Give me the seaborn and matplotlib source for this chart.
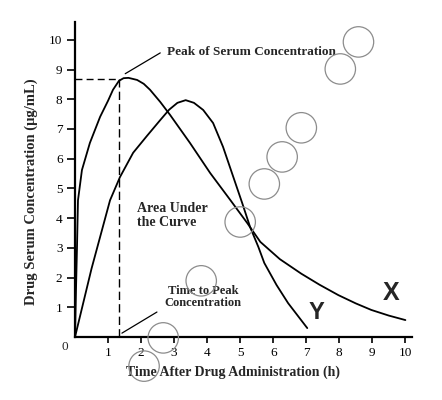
import matplotlib
matplotlib.use("Agg")
import matplotlib.pyplot as plt
import seaborn as sns

# curve X: fast rise, slow elimination
time_x = [0, 0.03, 0.06, 0.09, 0.21, 0.45, 0.76, 1.0, 1.15, 1.33, 1.47, 1.62, 1.88, 2.08, 2.27, 2.58,
          2.88, 3.48, 4.09, 4.70, 5.21, 5.61, 6.20, 6.85, 7.40, 7.97, 8.50, 8.97, 9.50, 10.0]
conc_x = [0, 1.6, 3.0, 4.6, 5.62, 6.53, 7.41, 7.95, 8.32, 8.62, 8.71, 8.72, 8.65, 8.52, 8.32, 7.91,
          7.47, 6.53, 5.52, 4.61, 3.84, 3.20, 2.62, 2.13, 1.76, 1.41, 1.13, 0.91, 0.72, 0.57]

# curve Y: slower rise, fast elimination
time_y = [0, 0.5, 1.06, 1.36, 1.76, 2.18, 2.58, 2.85, 3.1, 3.35, 3.6, 3.88, 4.18, 4.48, 4.79,
          5.06, 5.30, 5.55, 5.73, 6.10, 6.45, 7.03]
conc_y = [0, 2.3, 4.6, 5.38, 6.2, 6.77, 7.3, 7.65, 7.88, 7.97, 7.88, 7.64, 7.2, 6.4, 5.39,
          4.51, 3.70, 3.03, 2.49, 1.75, 1.14, 0.30]

# open circles scattered over the chart
circle_t = [8.58, 8.03, 6.85, 6.27, 5.73, 5.0, 3.82, 2.67, 2.09]
circle_c = [9.93, 9.02, 7.04, 6.06, 5.15, 3.87, 1.89, -0.03, -0.98]

peak_time = 1.32
peak_conc = 8.68

ticks = [1, 2, 3, 4, 5, 6, 7, 8, 9, 10]

sns.set_style("ticks")
plt.rcParams['font.family'] = ['Liberation Serif', 'DejaVu Serif']

fig = plt.figure(figsize=(4.42, 4.0), dpi=100)
ax = fig.add_axes([0.1697, 0.1575, 0.7624, 0.7875])

sns.lineplot(x=time_x, y=conc_x, sort=False, estimator=None, color="black", lw=1.3, ax=ax)
sns.lineplot(x=time_y, y=conc_y, sort=False, estimator=None, color="black", lw=1.3, ax=ax)

# dashed peak guides
ax.plot([0, peak_time], [peak_conc, peak_conc], color="black", lw=1.0, ls=(0, (5, 3)))
ax.plot([peak_time, peak_time], [0, peak_conc], color="black", lw=1.0, ls=(0, (6, 3)))

sns.scatterplot(x=circle_t, y=circle_c, s=480, facecolor="none", edgecolor="#8c8c8c",
                linewidth=0.9, ax=ax, clip_on=False, zorder=5)

ax.set_xlim(0, 10.2)
ax.set_ylim(0, 10.6)
ax.set_xticks(ticks)
ax.set_yticks(ticks)
ax.tick_params(axis="both", labelsize=9.5, width=1.2, color="black", labelcolor="black")
ax.tick_params(axis="y", length=6, pad=3)
ax.tick_params(axis="x", length=4, pad=3)
for s in ["left", "bottom"]:
    ax.spines[s].set_linewidth(1.6)
    ax.spines[s].set_color("black")
sns.despine(ax=ax)

ax.text(-0.3, -0.35, "0", fontsize=9.5, ha="center", va="center", clip_on=False)

ax.set_xlabel("Time After Drug Administration (h)", fontsize=10, fontweight="bold")
ax.xaxis.set_label_coords(0.47, -0.09)
ax.set_ylabel("Drug Serum Concentration (\u03bcg/mL)", fontsize=10.5, fontweight="bold")
ax.yaxis.set_label_coords(-0.11, 0.46)

ax.text(2.79, 9.6, "Peak of Serum Concentration", fontsize=9.5, fontweight="bold",
        ha="left", va="center")
ax.annotate("", xy=(1.52, 8.86), xytext=(2.58, 9.56),
            arrowprops=dict(arrowstyle="-", lw=0.9, color="black", shrinkA=0, shrinkB=0))

ax.text(1.88, 4.1, "Area Under\nthe Curve", fontsize=10, fontweight="bold",
        ha="left", va="center", linespacing=1.1)

ax.text(3.88, 1.35, "Time to Peak\nConcentration", fontsize=9, fontweight="bold",
        ha="center", va="center", linespacing=0.95)
ax.annotate("", xy=(1.42, 0.13), xytext=(2.48, 0.84),
            arrowprops=dict(arrowstyle="-", lw=0.9, color="black", shrinkA=0, shrinkB=0))

ax.text(7.3, 0.84, "Y", fontsize=17, fontweight="bold", family="Liberation Sans",
        ha="center", va="center")
ax.text(9.58, 1.48, "X", fontsize=18, fontweight="bold", family="Liberation Sans",
        ha="center", va="center")

fig.savefig("out.png", dpi=100)
